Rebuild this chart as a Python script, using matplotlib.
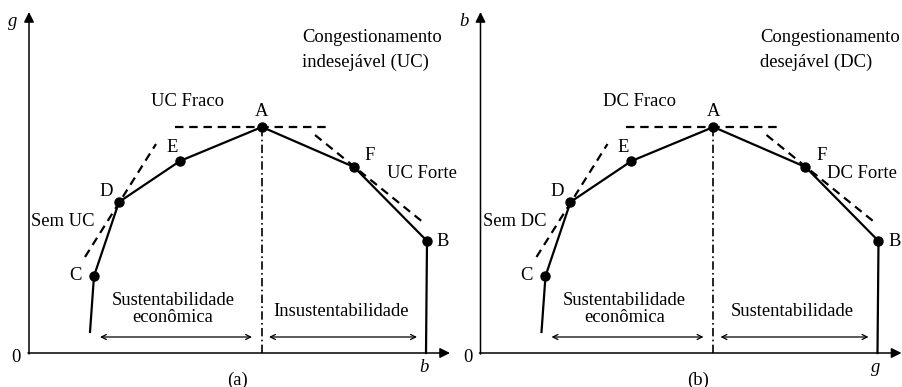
import matplotlib
matplotlib.use("Agg")
import matplotlib.pyplot as plt

# frontier (diagram units, origin at the axis corner): start, C, D, E, A, F, B, end
curve_x = [61, 65, 90, 151, 233, 325, 398, 397]
curve_y = [21, 77, 151, 192, 226, 186, 112, 0]
point_names = ["C", "D", "E", "A", "F", "B"]
point_idx = [1, 2, 3, 4, 5, 6]
label_x = [46, 77, 143, 233, 341, 414]
label_y = [77, 161, 205, 241, 197, 112]

# dashed reference lines
weak_x, weak_y = [146, 301], [226, 226]
none_x, none_y = [56, 127], [96, 209]
strong_x, strong_y = [286, 395], [218, 130]
split_x = 233
span_y = 16
span_left = [71, 223]
span_right = [240, 388]

panels = [
    dict(ylab="g", xlab="b", cap="(a)", cap_x=209, tag="UC", forte_x=358, cong_x=273,
         cong2="indesejável (UC)", right_txt="Insustentabilidade"),
    dict(ylab="b", xlab="g", cap="(b)", cap_x=218, tag="DC", forte_x=347, cong_x=280,
         cong2="desejável (DC)", right_txt="Sustentabilidade"),
]

FONT = dict(family="Liberation Serif", fontsize=13.4, color="black")
LW = 1.6

fig = plt.figure(figsize=(9.03, 3.87), dpi=100)
for k, p in enumerate(panels):
    ax = fig.add_axes([0.5 * k, 0, 0.5, 1])
    ax.set_xlim(-29, 422.5); ax.set_ylim(-34, 353); ax.axis("off")

    # axes with arrowheads
    ax.annotate("", xy=(0, 341), xytext=(0, -1),
                arrowprops=dict(arrowstyle="-|>", lw=1.1, color="black", mutation_scale=15, shrinkA=0, shrinkB=0))
    ax.annotate("", xy=(421, 0), xytext=(-1, 0),
                arrowprops=dict(arrowstyle="-|>", lw=1.1, color="black", mutation_scale=15, shrinkA=0, shrinkB=0))

    # frontier
    ax.plot(curve_x, curve_y, "-", color="black", lw=LW, zorder=3)
    px = [curve_x[i] for i in point_idx]; py = [curve_y[i] for i in point_idx]
    ax.plot(px, py, "o", color="black", ms=6.5, zorder=4)
    for name, lx, ly in zip(point_names, label_x, label_y):
        ax.text(lx, ly, name, ha="center", va="center", **FONT)

    # dashed tangents
    for xs, ys in [(weak_x, weak_y), (none_x, none_y), (strong_x, strong_y)]:
        ax.plot(xs, ys, color="black", lw=LW, ls=(0, (3.8, 2.6)), zorder=2)
    ax.plot([split_x, split_x], [0, curve_y[4]], color="black", lw=1.2, ls=(0, (5, 2, 1, 2)), zorder=2)

    # region arrows
    for xs in (span_left, span_right):
        ax.annotate("", xy=(xs[0], span_y), xytext=(xs[1], span_y),
                    arrowprops=dict(arrowstyle="<->", lw=0.9, color="black", mutation_scale=9, shrinkA=0, shrinkB=0))
    ax.text(144, 44, "Sustentabilidade\neconômica", ha="center", va="center", linespacing=1.0, **FONT)
    ax.text(312, 41, p["right_txt"], ha="center", va="center", **FONT)

    # labels
    ax.text(p["cong_x"], 316, "Congestionamento", ha="left", va="center", **FONT)
    ax.text(p["cong_x"], 291, p["cong2"], ha="left", va="center", **FONT)
    ax.text(159, 251, p["tag"] + " Fraco", ha="center", va="center", **FONT)
    ax.text(p["forte_x"], 180, p["tag"] + " Forte", ha="left", va="center", **FONT)
    ax.text(34, 132, "Sem " + p["tag"], ha="center", va="center", **FONT)

    ax.text(-16, 331, p["ylab"], ha="center", va="center", style="italic", **FONT)
    ax.text(395, -15, p["xlab"], ha="center", va="center", style="italic", **FONT)
    ax.text(-13, -4, "0", ha="center", va="center", **FONT)
    ax.text(p["cap_x"], -27, p["cap"], ha="center", va="center", **FONT)

fig.savefig("out.png", dpi=100)
